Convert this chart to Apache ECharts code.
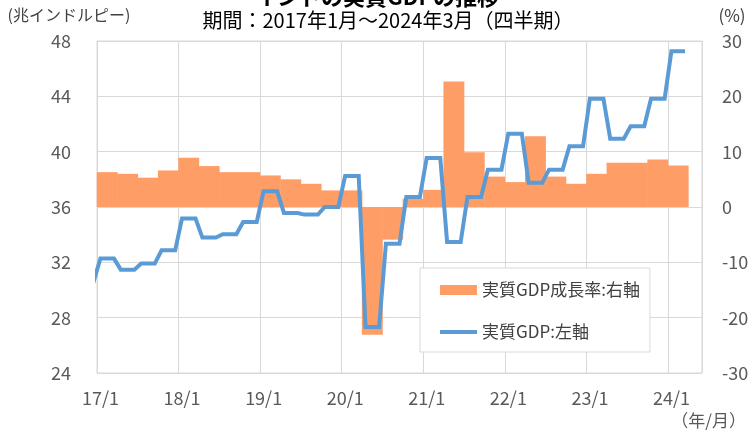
<!DOCTYPE html>
<html>
<head>
<meta charset="utf-8">
<script src="https://cdn.jsdelivr.net/npm/echarts@6/dist/echarts.min.js"></script>
<style>
html, body { margin: 0; padding: 0; background: #fff; }
#chart { width: 754px; height: 434px; }
</style>
</head>
<body>
<div id="chart"></div>
<script>
// 四半期 (16Q4 は左端で切れて少しだけ見える)
var quarters = ['16Q4',
	'17Q1','17Q2','17Q3','17Q4','18Q1','18Q2','18Q3','18Q4',
	'19Q1','19Q2','19Q3','19Q4','20Q1','20Q2','20Q3','20Q4',
	'21Q1','21Q2','21Q3','21Q4','22Q1','22Q2','22Q3','22Q4',
	'23Q1','23Q2','23Q3','23Q4','24Q1'];
// 実質GDP（兆インドルピー）
var gdp = [30.6,
	32.27, 31.47, 31.91, 32.87, 35.16, 33.79, 34.03, 34.92,
	37.13, 35.57, 35.45, 36.0, 38.24, 27.33, 33.35, 36.72,
	39.54, 33.47, 36.72, 38.70, 41.30, 37.76, 38.70, 40.39,
	43.83, 40.94, 41.83, 43.83, 47.26];
// 実質GDP成長率（%）
var growth = [8.6,
	6.3, 6.0, 5.3, 6.6, 8.9, 7.4, 6.3, 6.3,
	5.7, 5.0, 4.2, 3.0, 3.0, -23.1, -5.9, 1.5,
	3.1, 22.7, 9.9, 5.5, 4.5, 12.8, 5.5, 4.2,
	6.0, 8.0, 8.0, 8.6, 7.5];
var xLabels = ['17/1','18/1','19/1','20/1','21/1','22/1','23/1','24/1'];

var FONT = '"Noto Sans CJK JP", "Noto Sans", sans-serif';
var gridLeft = 97, gridRight = 52, gridTop = 41, gridBottom = 61;
var nMonths = 89; // 2017/1 ～ 2024/5

var myChart = echarts.init(document.getElementById('chart'));
var monthW = (myChart.getWidth() - gridLeft - gridRight) / nMonths;

// 月単位の位置に展開（四半期の値を3か月分）
var lineData = [];
var barData = [];
for (var i = 0; i < quarters.length; i++) {
	var m0 = (i - 1) * 3;
	for (var k = 0; k < 3; k++) {
		lineData.push([m0 + k + 0.5, gdp[i]]);
	}
	if (m0 >= 0) {
		barData.push([m0 + 1.5, growth[i]]);
	}
}

var option = {
	animation: false,
	textStyle: { fontFamily: FONT },
	grid: {
		left: gridLeft, right: gridRight, top: gridTop, bottom: gridBottom,
		show: true, borderColor: '#d9d9d9', borderWidth: 1,
		outerBoundsMode: 'none'
	},
	graphic: [
		{ type: 'text', left: 'center', top: -14, style: { text: 'インドの実質GDPの推移', font: 'bold 22px ' + FONT, fill: '#000' } },
		{ type: 'text', x: 388, y: 20, style: { text: '期間：2017年1月～2024年3月（四半期）', font: '20px ' + FONT, fill: '#000', align: 'center', verticalAlign: 'middle' } },
		{ type: 'text', x: 69, y: 15, style: { text: '(兆インドルピー)', font: '16px ' + FONT, fill: '#404040', align: 'center', verticalAlign: 'middle' } },
		{ type: 'text', x: 732, y: 16, style: { text: '(%)', font: '17px ' + FONT, fill: '#404040', align: 'center', verticalAlign: 'middle' } },
		{ type: 'text', x: 746, y: 421, style: { text: '（年/月）', font: '17px ' + FONT, fill: '#595959', align: 'right', verticalAlign: 'middle' } }
	],
	legend: {
		orient: 'vertical',
		left: 420, top: 268,
		padding: [12, 10, 10, 20],
		itemWidth: 37, itemHeight: 10, itemGap: 22,
		borderColor: '#d9d9d9', borderWidth: 1,
		backgroundColor: '#fff',
		textStyle: { fontSize: 17, color: '#404040', lineHeight: 20, fontFamily: FONT },
		data: [
			{ name: '実質GDP成長率:右軸', icon: 'rect' },
			{ name: '実質GDP:左軸', icon: 'path://M0,0H37V4H0Z' }
		]
	},
	xAxis: {
		type: 'value',
		min: 0, max: nMonths, interval: 12,
		axisLine: { show: false },
		axisTick: { show: false },
		splitLine: { show: true, lineStyle: { color: '#d9d9d9', width: 1 } },
		axisLabel: {
			color: '#595959', fontSize: 18, margin: 16, padding: [0, 0, 0, 7],
			formatter: function (v) { return xLabels[v / 12] || ''; }
		}
	},
	yAxis: [
		{
			type: 'value', min: 24, max: 48, interval: 4,
			axisLine: { show: false }, axisTick: { show: false },
			splitLine: { show: true, lineStyle: { color: '#d9d9d9', width: 1 } },
			axisLabel: { color: '#595959', fontSize: 18, margin: 26 }
		},
		{
			type: 'value', min: -30, max: 30, interval: 10,
			axisLine: { show: false }, axisTick: { show: false },
			splitLine: { show: false },
			axisLabel: { color: '#595959', fontSize: 18, margin: 20, align: 'left' }
		}
	],
	series: [
		{
			name: '実質GDP成長率:右軸',
			type: 'bar',
			yAxisIndex: 1,
			barWidth: monthW * 3 + 0.5,
			itemStyle: { color: '#FF9D66' },
			data: barData
		},
		{
			name: '実質GDP:左軸',
			type: 'line',
			yAxisIndex: 0,
			symbol: 'none',
			clip: true,
			lineStyle: { color: '#5B9BD5', width: 4, join: 'miter' },
			itemStyle: { color: '#5B9BD5' },
			z: 3,
			data: lineData
		}
	]
};
myChart.setOption(option);
</script>
</body>
</html>
